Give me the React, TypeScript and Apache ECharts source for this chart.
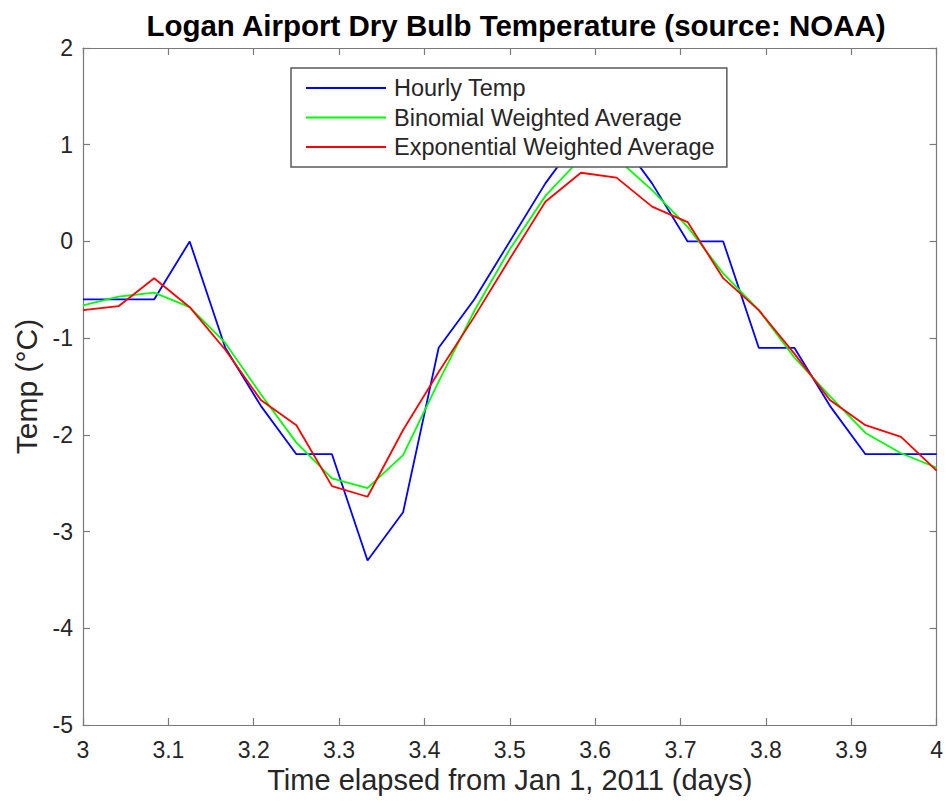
import React, { useEffect, useRef } from "react";
import * as echarts from "echarts";

const startDay = 3;
const hours = [0, 1, 2, 3, 4, 5, 6, 7, 8, 9, 10, 11, 12, 13, 14, 15, 16, 17, 18, 19, 20, 21, 22, 23, 24];
const hourlyTemp = [-0.6, -0.6, -0.6, 0, -1.1, -1.7, -2.2, -2.2, -3.3, -2.8, -1.1, -0.6, 0, 0.6, 1.1, 1.1, 0.6, 0, 0, -1.1, -1.1, -1.7, -2.2, -2.2, -2.2];
const binomialAvg = [-0.66, -0.57, -0.53, -0.68, -1.05, -1.58, -2.08, -2.45, -2.55, -2.21, -1.45, -0.72, -0.08, 0.47, 0.86, 0.86, 0.53, 0.15, -0.33, -0.71, -1.2, -1.6, -1.98, -2.19, -2.34];
const exponentialAvg = [-0.71, -0.67, -0.38, -0.68, -1.12, -1.64, -1.9, -2.53, -2.64, -1.95, -1.35, -0.78, -0.18, 0.41, 0.71, 0.66, 0.36, 0.2, -0.38, -0.71, -1.16, -1.64, -1.9, -2.02, -2.37];

const seriesNames = ["Hourly Temp", "Binomial Weighted Average", "Exponential Weighted Average"];
const seriesColors = ["#0000ff", "#00ff00", "#ff0000"];

const FONT = "'Liberation Sans', Arial, Helvetica, sans-serif";
const AXIS_COLOR = "#7a7a7a";
const TEXT_COLOR = "#262626";

export default function App() {
  const ref = useRef<HTMLDivElement>(null);

  useEffect(() => {
    if (!ref.current) return;
    const chart = echarts.init(ref.current, undefined, { renderer: "svg" });
    const toPoints = (vals: number[]) => hours.map((h, i) => [startDay + h / 24, vals[i]]);
    const allSeries = [hourlyTemp, binomialAvg, exponentialAvg];

    const axisLine = { show: true, onZero: false, lineStyle: { color: AXIS_COLOR, width: 1.2 } };
    const axisTick = { show: true, inside: true, length: 7, lineStyle: { color: AXIS_COLOR, width: 1.2 } };

    chart.setOption({
      animation: false,
      backgroundColor: "#ffffff",
      title: {
        text: "Logan Airport Dry Bulb Temperature (source: NOAA)",
        left: 511,
        top: 5,
        textAlign: "center",
        textStyle: { fontFamily: FONT, fontSize: 29.5, fontWeight: "bold", color: "#000" },
      },
      legend: {
        data: seriesNames.map((n, i) => ({ name: n, icon: "rect", itemStyle: { color: seriesColors[i] } })),
        orient: "vertical",
        left: 291,
        top: 68,
        padding: [8, 11, 8, 15],
        itemGap: 5.5,
        itemWidth: 80,
        itemHeight: 2,
        borderColor: "#5a5a5a",
        borderWidth: 1.5,
        backgroundColor: "#ffffff",
        z: 20,
        textStyle: { fontFamily: FONT, fontSize: 23.5, color: TEXT_COLOR, padding: [0, 0, 0, 3] },
      },
      grid: { left: 83, right: 8, top: 48, bottom: 78, containLabel: false },
      xAxis: [
        {
          type: "value",
          min: 3,
          max: 4,
          interval: 0.1,
          position: "bottom",
          name: "Time elapsed from Jan 1, 2011 (days)",
          nameLocation: "middle",
          nameGap: 40,
          nameTextStyle: { fontFamily: FONT, fontSize: 29, color: TEXT_COLOR },
          axisLine,
          axisTick,
          splitLine: { show: false },
          axisLabel: { fontFamily: FONT, fontSize: 23, color: TEXT_COLOR, margin: 13 },
        },
        {
          type: "value",
          min: 3,
          max: 4,
          interval: 0.1,
          position: "top",
          axisLine,
          axisTick,
          splitLine: { show: false },
          axisLabel: { show: false },
        },
      ],
      yAxis: [
        {
          type: "value",
          min: -5,
          max: 2,
          interval: 1,
          position: "left",
          name: "Temp (°C)",
          nameLocation: "middle",
          nameGap: 42,
          nameTextStyle: { fontFamily: FONT, fontSize: 30, color: TEXT_COLOR },
          axisLine,
          axisTick,
          splitLine: { show: false },
          axisLabel: { fontFamily: FONT, fontSize: 23, color: TEXT_COLOR, margin: 10 },
        },
        {
          type: "value",
          min: -5,
          max: 2,
          interval: 1,
          position: "right",
          axisLine,
          axisTick,
          splitLine: { show: false },
          axisLabel: { show: false },
        },
      ],
      series: allSeries.map((vals, i) => ({
        name: seriesNames[i],
        type: "line",
        xAxisIndex: 0,
        yAxisIndex: 0,
        data: toPoints(vals),
        symbol: "none",
        showSymbol: false,
        lineStyle: { color: seriesColors[i], width: 1.8 },
        itemStyle: { color: seriesColors[i] },
      })),
    });

    return () => chart.dispose();
  }, []);

  return (
    <div
      ref={ref}
      style={{ position: "fixed", left: 0, top: 0, width: 946, height: 803, background: "#fff" }}
    />
  );
}
